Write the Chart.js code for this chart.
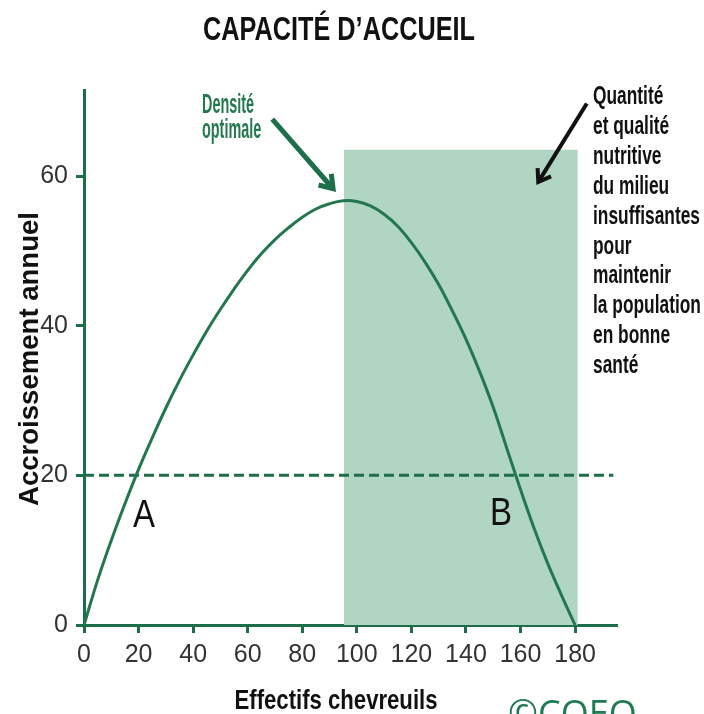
<!DOCTYPE html>
<html><head><meta charset="utf-8">
<script src="https://cdn.jsdelivr.net/npm/chart.js@4/dist/chart.umd.min.js"></script>
<style>html,body{margin:0;padding:0;background:#fff;}#wrap{width:704px;height:714px;}</style>
</head><body><div id="wrap"><canvas id="c" width="704" height="714"></canvas></div>
<script>
// ---- data ----
const effectifs      = [0, 5, 10, 15, 20, 25, 30, 35, 40, 45, 50, 55, 60, 65, 70, 75, 80, 85, 90, 95,
                        100, 105, 110, 115, 120, 125, 130, 135, 140, 145, 150, 155, 160, 165, 170, 175, 180];
const accroissement  = [0, 6.0, 11.3, 16.2, 20.8, 25.0, 29.0, 32.7, 36.1, 39.3, 42.2, 44.9, 47.4, 49.6, 51.5, 53.1, 54.5, 55.6, 56.3, 56.7,
                        56.6, 56.0, 54.9, 53.3, 51.1, 48.5, 45.5, 42.0, 38.2, 33.9, 29.1, 23.6, 18.1, 12.9, 8.2, 4.0, 0];
const seuilX         = [0, 194];
const seuilY         = [20, 20];
const zoneX          = [95.3, 181];
const zoneY          = [63.5, 63.5];
const xTickValues    = [0, 20, 40, 60, 80, 100, 120, 140, 160, 180];
const yTickValues    = [0, 20, 40, 60];
const xMax = 195, yMax = 71.5;

const GREEN = '#1c6d48';
const CURVE = '#23774f';
const ZONE  = '#b1d5c3';

const pts = (xs, ys) => xs.map((x, i) => ({x, y: ys[i]}));

function txt(ctx, s, x, y, font, color, sx, align, rot) {
  ctx.save();
  ctx.font = font; ctx.fillStyle = color; ctx.textAlign = align || 'left'; ctx.textBaseline = 'alphabetic';
  ctx.translate(x, y);
  if (rot) ctx.rotate(rot);
  ctx.scale(sx, 1);
  ctx.fillText(s, 0, 0);
  ctx.restore();
}
function fitScale(ctx, s, font, w) { ctx.save(); ctx.font = font; const m = ctx.measureText(s).width; ctx.restore(); return w / m; }

function arrow(ctx, x1, y1, x2, y2, color, lw, head) {
  ctx.save();
  ctx.strokeStyle = color; ctx.lineWidth = lw; ctx.lineCap = 'butt'; ctx.lineJoin = 'miter';
  const a = Math.atan2(y2 - y1, x2 - x1);
  ctx.beginPath(); ctx.moveTo(x1, y1); ctx.lineTo(x2 - Math.cos(a) * 2, y2 - Math.sin(a) * 2); ctx.stroke();
  ctx.beginPath();
  ctx.moveTo(x2 - head * Math.cos(a - 0.6), y2 - head * Math.sin(a - 0.6));
  ctx.lineTo(x2, y2);
  ctx.lineTo(x2 - head * Math.cos(a + 0.6), y2 - head * Math.sin(a + 0.6));
  ctx.stroke();
  ctx.restore();
}

const decor = {
  id: 'decor',
  afterDraw(chart) {
    const ctx = chart.ctx;
    const xs = chart.scales.x, ys = chart.scales.y;
    const SANS = "'Liberation Sans', Arial, sans-serif";
    // title
    let f = "bold 33px " + SANS;
    txt(ctx, 'CAPACITÉ D’ACCUEIL', 339, 40, f, '#111', fitScale(ctx, 'CAPACITÉ D’ACCUEIL', f, 272), 'center');
    // y title
    f = "bold 27px " + SANS;
    txt(ctx, 'Accroissement annuel', 38, 359, f, '#111', fitScale(ctx, 'Accroissement annuel', f, 294), 'center', -Math.PI / 2);
    // x title
    f = "bold 27px " + SANS;
    txt(ctx, 'Effectifs chevreuils', 336, 709, f, '#111', fitScale(ctx, 'Effectifs chevreuils', f, 203), 'center');
    // Densité optimale
    f = "bold 27px " + SANS;
    let sx = fitScale(ctx, 'Densité', f, 52);
    txt(ctx, 'Densité', 202, 113, f, '#24784f', sx, 'left');
    txt(ctx, 'optimale', 202, 138, f, '#24784f', sx, 'left');
    // right block
    f = "bold 26px " + SANS;
    sx = fitScale(ctx, 'insuffisantes', f, 107);
    const lines = ['Quantité', 'et qualité', 'nutritive', 'du milieu', 'insuffisantes', 'pour', 'maintenir', 'la population', 'en bonne', 'santé'];
    lines.forEach((l, i) => txt(ctx, l, 593, 104 + i * 29.9, f, '#111', sx, 'left'));
    // A / B
    f = "38px " + SANS;
    sx = fitScale(ctx, 'A', f, 22);
    txt(ctx, 'A', 144, 527, f, '#111', sx, 'center');
    txt(ctx, 'B', 501, 525, f, '#111', sx, 'center');
    // arrows (anchored to data space)
    arrow(ctx, xs.getPixelForValue(69.0), ys.getPixelForValue(67.6), xs.getPixelForValue(91.3), ys.getPixelForValue(58.3), '#1d6e4a', 5, 15);
    arrow(ctx, xs.getPixelForValue(184.3), ys.getPixelForValue(69.7), xs.getPixelForValue(166.5), ys.getPixelForValue(59.2), '#111', 4, 14);
    // credit
    txt(ctx, '©COEO', 508, 726, "36px 'Open Sans', sans-serif", '#1e7a50', 1, 'left');
  }
};

const TICKFONT = { family: "'Liberation Sans', Arial, sans-serif", size: 25 };

new Chart(document.getElementById('c'), {
  type: 'line',
  data: {
    datasets: [
      { data: pts(effectifs, accroissement), borderColor: CURVE, borderWidth: 3, pointRadius: 0, tension: 0.4, fill: false, order: 1 },
      { data: pts(seuilX, seuilY), borderColor: GREEN, borderWidth: 3, borderDash: [10, 5], pointRadius: 0, fill: false, order: 2 },
      { data: pts(zoneX, zoneY), borderWidth: 0, borderColor: 'rgba(0,0,0,0)', backgroundColor: ZONE, pointRadius: 0, fill: 'origin', order: 3 }
    ]
  },
  options: {
    responsive: false, animation: false, devicePixelRatio: 1,
    layout: { padding: { left: 0, top: 90, right: 88, bottom: 0 } },
    plugins: { legend: { display: false }, tooltip: { enabled: false } },
    scales: {
      x: {
        type: 'linear', min: 0, max: xMax,
        afterBuildTicks: s => { s.ticks = xTickValues.map(v => ({ value: v })); },
        afterFit: s => { s.height = 89; },
        ticks: { font: TICKFONT, color: '#333', padding: 7, maxRotation: 0, autoSkip: false },
        grid: { drawOnChartArea: false, drawTicks: true, tickLength: 8, color: GREEN, lineWidth: 3 },
        border: { display: true, color: GREEN, width: 3 }
      },
      y: {
        type: 'linear', min: 0, max: yMax,
        afterBuildTicks: s => { s.ticks = yTickValues.map(v => ({ value: v })); },
        afterFit: s => { s.width = 84; },
        ticks: { font: TICKFONT, color: '#333', padding: 8 },
        grid: { drawOnChartArea: false, drawTicks: true, tickLength: 8, color: GREEN, lineWidth: 3 },
        border: { display: true, color: GREEN, width: 3 }
      }
    }
  },
  plugins: [decor]
});
</script></body></html>
